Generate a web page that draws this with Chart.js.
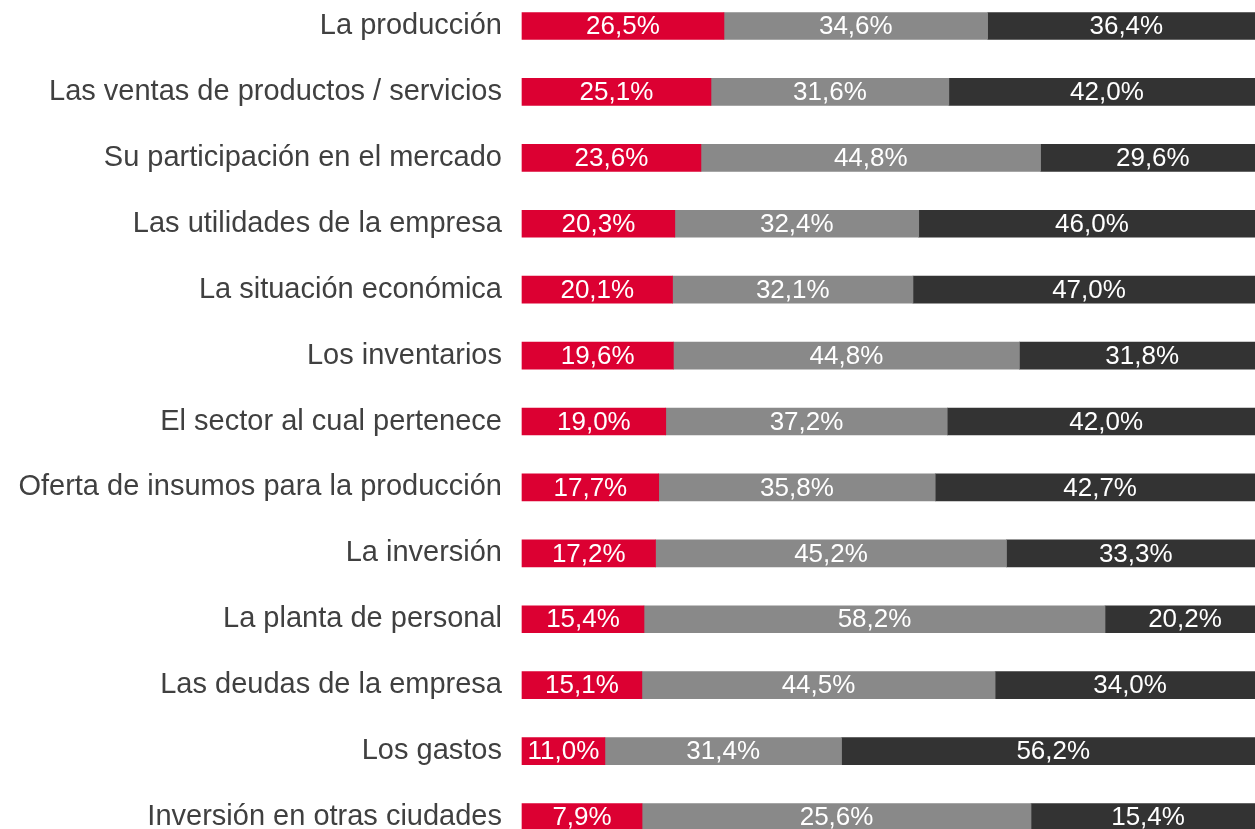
<!DOCTYPE html>
<html>
<head>
<meta charset="utf-8">
<script src="https://cdn.jsdelivr.net/npm/chart.js@4/dist/chart.umd.min.js"></script>
<style>
  html, body { margin: 0; padding: 0; background: #ffffff; }
  #wrap { width: 1255px; height: 829px; position: relative; overflow: hidden; }
</style>
</head>
<body>
<div id="wrap"><canvas id="c" width="1255" height="829"></canvas></div>
<script>
const categories = [
  "La producción",
  "Las ventas de productos / servicios",
  "Su participación en el mercado",
  "Las utilidades de la empresa",
  "La situación económica",
  "Los inventarios",
  "El sector al cual pertenece",
  "Oferta de insumos para la producción",
  "La inversión",
  "La planta de personal",
  "Las deudas de la empresa",
  "Los gastos",
  "Inversión en otras ciudades"
];
const redValues  = [26.5, 25.1, 23.6, 20.3, 20.1, 19.6, 19.0, 17.7, 17.2, 15.4, 15.1, 11.0, 7.9];
const grayValues = [34.6, 31.6, 44.8, 32.4, 32.1, 44.8, 37.2, 35.8, 45.2, 58.2, 44.5, 31.4, 25.6];
const darkValues = [36.4, 42.0, 29.6, 46.0, 47.0, 31.8, 42.0, 42.7, 33.3, 20.2, 34.0, 56.2, 15.4];

// 100% stacked: each row is shown as shares of its own total
const rowTotals = categories.map((_, i) => redValues[i] + grayValues[i] + darkValues[i]);
const share = arr => arr.map((v, i) => v / rowTotals[i] * 100);
const rawSeries = [redValues, grayValues, darkValues];

const fontFamily = "'Liberation Sans', Arial, Helvetica, sans-serif";

const valueLabels = {
  id: 'valueLabels',
  afterDatasetsDraw(chart) {
    const ctx = chart.ctx;
    ctx.save();
    ctx.font = "26px " + fontFamily;
    ctx.fillStyle = "#ffffff";
    ctx.textAlign = "center";
    ctx.textBaseline = "middle";
    chart.data.datasets.forEach((ds, di) => {
      const meta = chart.getDatasetMeta(di);
      meta.data.forEach((el, i) => {
        const raw = rawSeries[di][i];
        const txt = raw.toFixed(1).replace('.', ',') + '%';
        const cx = (el.x + el.base) / 2;
        ctx.fillText(txt, cx, el.y + 1);
      });
    });
    ctx.restore();
  }
};

new Chart(document.getElementById('c'), {
  type: 'bar',
  data: {
    labels: categories,
    datasets: [
      { data: share(redValues),  backgroundColor: '#DC0032' },
      { data: share(grayValues), backgroundColor: '#898989' },
      { data: share(darkValues), backgroundColor: '#333333' }
    ]
  },
  options: {
    indexAxis: 'y',
    responsive: false,
    animation: false,
    devicePixelRatio: 1,
    layout: { padding: { top: 26, bottom: 12, left: 0, right: 0 } },
    datasets: { bar: { barThickness: 27, clip: false, borderWidth: 0 } },
    plugins: { legend: { display: false }, tooltip: { enabled: false } },
    scales: {
      x: {
        stacked: true,
        display: false,
        min: 0,
        max: 98.65
      },
      y: {
        stacked: true,
        offset: false,
        grid: { display: false, drawTicks: false },
        border: { display: false },
        ticks: {
          padding: 20,
          color: '#404040',
          font: { family: fontFamily, size: 29 }
        },
        afterFit(scale) {
          scale.width = 522;
          scale.paddingTop = 0;
          scale.paddingBottom = 0;
        }
      }
    }
  },
  plugins: [valueLabels]
});
</script>
</body>
</html>
